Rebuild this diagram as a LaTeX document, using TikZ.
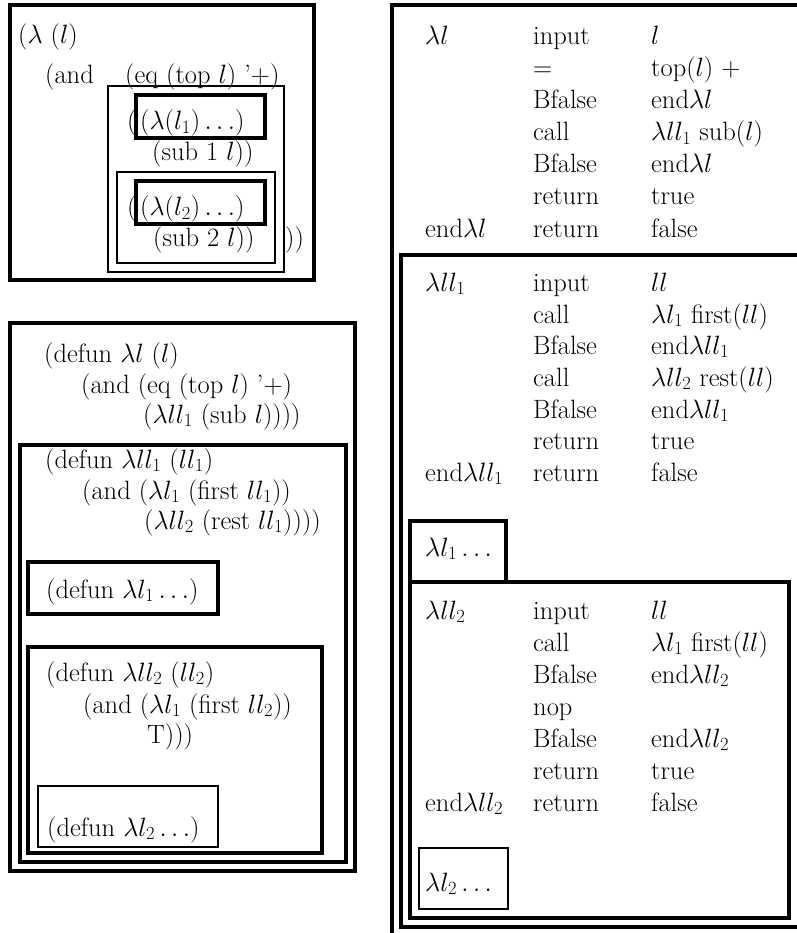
\RequirePackage{fix-cm}
\documentclass[tikz,border=0pt]{standalone}
\usepackage{fontspec}
\begin{document}
\begin{tikzpicture}[x=1pt,y=-1pt,
  heavy/.style={line width=3.2pt},
  light/.style={line width=2.4pt},
  code/.style={anchor=base west,inner sep=0pt,font=\fontsize{26.5}{32}\selectfont},
]
\useasboundingbox (0,0) rectangle (796,933);

% ---- lambda expression with nested boxes ----
\draw[heavy] (10,5) rectangle (314,280);
\draw[light] (108,86) rectangle (284,272);
\draw[heavy] (136,95) rectangle (265,138);
\draw[light] (117,172) rectangle (275,263);
\draw[heavy] (136,181) rectangle (265,224);

\node[code] (lam)   at (18,44)   {($\lambda$ ($l$)};
\node[code] (and)   at (45,84)   {(and};
\node[code] (eq)    at (125,84)  {(eq (top $l$) '+)};
\node[code] (opa)   at (127,130) {(};
\node[code] (lamA)  at (140,130) {$(\lambda(l_1)\ldots)$};
\node[code] (subA)  at (152,161) {(sub 1 $l$))};
\node[code] (opb)   at (127,216) {(};
\node[code] (lamB)  at (140,216) {$(\lambda(l_2)\ldots)$};
\node[code] (subB)  at (153,246) {(sub 2 $l$))};
\node[code] (close) at (285,246) {))};

% ---- defun forms ----
\draw[heavy] (10,323) rectangle (355,871);
\draw[heavy] (20,445) rectangle (346,862);
\draw[heavy] (28,562) rectangle (218,614);
\draw[heavy] (28,647) rectangle (322,853);
\draw[light] (38,786) rectangle (218,847);

\node[code] (d1a) at (44,362)  {(defun $\lambda l$ ($l$)};
\node[code] (d1b) at (81,393)  {(and (eq (top $l$) '+)};
\node[code] (d1c) at (143,423) {($\lambda ll_1$ (sub $l$))))};
\node[code] (d2a) at (45,468)  {(defun $\lambda ll_1$ ($ll_1$)};
\node[code] (d2b) at (82,499)  {(and ($\lambda l_1$ (first $ll_1$))};
\node[code] (d2c) at (144,529) {($\lambda ll_2$ (rest $ll_1$))))};
\node[code] (d3)  at (46,598)  {(defun $\lambda l_1\ldots$)};
\node[code] (d4a) at (46,681)  {(defun $\lambda ll_2$ ($ll_2$)};
\node[code] (d4b) at (83,713)  {(and ($\lambda l_1$ (first $ll_2$))};
\node[code] (d4c) at (147,743) {T)))};
\node[code] (d5)  at (47,836)  {(defun $\lambda l_2\ldots$)};

% ---- compiled code listing ----
\draw[heavy] (800,5) -- (392,5) -- (392,940);
\draw[heavy] (800,255) -- (401,255) -- (401,927) -- (800,927);
\draw[heavy] (410,582) rectangle (789,918);
\draw[heavy] (410,580) |- (506,521) -- (506,580);
\draw[light] (419,848) rectangle (508,909);

\def\ca{425}\def\cb{533}\def\cc{651}
% block lambda l
\node[code] (a0) at (\ca,45)  {$\lambda l$};
\node[code] (a1) at (\cb,45)  {input};
\node[code] (a2) at (\cc,45)  {$l$};
\node[code] (a3) at (\cb,77)  {=};
\node[code] (a4) at (\cc,77)  {top($l$) +};
\node[code] (a5) at (\cb,109) {Bfalse};
\node[code] (a6) at (\cc,109) {end$\lambda l$};
\node[code] (a7) at (\cb,141) {call};
\node[code] (a8) at (\cc,141) {$\lambda ll_1$ sub($l$)};
\node[code] (a9) at (\cb,173) {Bfalse};
\node[code] (a10) at (\cc,173) {end$\lambda l$};
\node[code] (a11) at (\cb,205) {return};
\node[code] (a12) at (\cc,205) {true};
\node[code] (a13) at (\ca,237) {end$\lambda l$};
\node[code] (a14) at (\cb,237) {return};
\node[code] (a15) at (\cc,237) {false};
% block lambda ll_1
\node[code] (b0) at (\ca,291) {$\lambda ll_1$};
\node[code] (b1) at (\cb,291) {input};
\node[code] (b2) at (\cc,291) {$ll$};
\node[code] (b3) at (\cb,323) {call};
\node[code] (b4) at (\cc,323) {$\lambda l_1$ first($ll$)};
\node[code] (b5) at (\cb,354) {Bfalse};
\node[code] (b6) at (\cc,354) {end$\lambda ll_1$};
\node[code] (b7) at (\cb,386) {call};
\node[code] (b8) at (\cc,386) {$\lambda ll_2$ rest($ll$)};
\node[code] (b9) at (\cb,418) {Bfalse};
\node[code] (b10) at (\cc,418) {end$\lambda ll_1$};
\node[code] (b11) at (\cb,449) {return};
\node[code] (b12) at (\cc,449) {true};
\node[code] (b13) at (\ca,481) {end$\lambda ll_1$};
\node[code] (b14) at (\cb,481) {return};
\node[code] (b15) at (\cc,481) {false};
\node[code] (b16) at (\ca,556) {$\lambda l_1\ldots$};
% block lambda ll_2
\node[code] (c0) at (\ca,619) {$\lambda ll_2$};
\node[code] (c1) at (\cb,619) {input};
\node[code] (c2) at (\cc,619) {$ll$};
\node[code] (c3) at (\cb,651) {call};
\node[code] (c4) at (\cc,651) {$\lambda l_1$ first($ll$)};
\node[code] (c5) at (\cb,683) {Bfalse};
\node[code] (c6) at (\cc,683) {end$\lambda ll_2$};
\node[code] (c7) at (\cb,715) {nop};
\node[code] (c8) at (\cb,747) {Bfalse};
\node[code] (c9) at (\cc,747) {end$\lambda ll_2$};
\node[code] (c10) at (\cb,779) {return};
\node[code] (c11) at (\cc,779) {true};
\node[code] (c12) at (\ca,811) {end$\lambda ll_2$};
\node[code] (c13) at (\cb,811) {return};
\node[code] (c14) at (\cc,811) {false};
\node[code] (c15) at (\ca,891) {$\lambda l_2\ldots$};
\end{tikzpicture}
\end{document}
